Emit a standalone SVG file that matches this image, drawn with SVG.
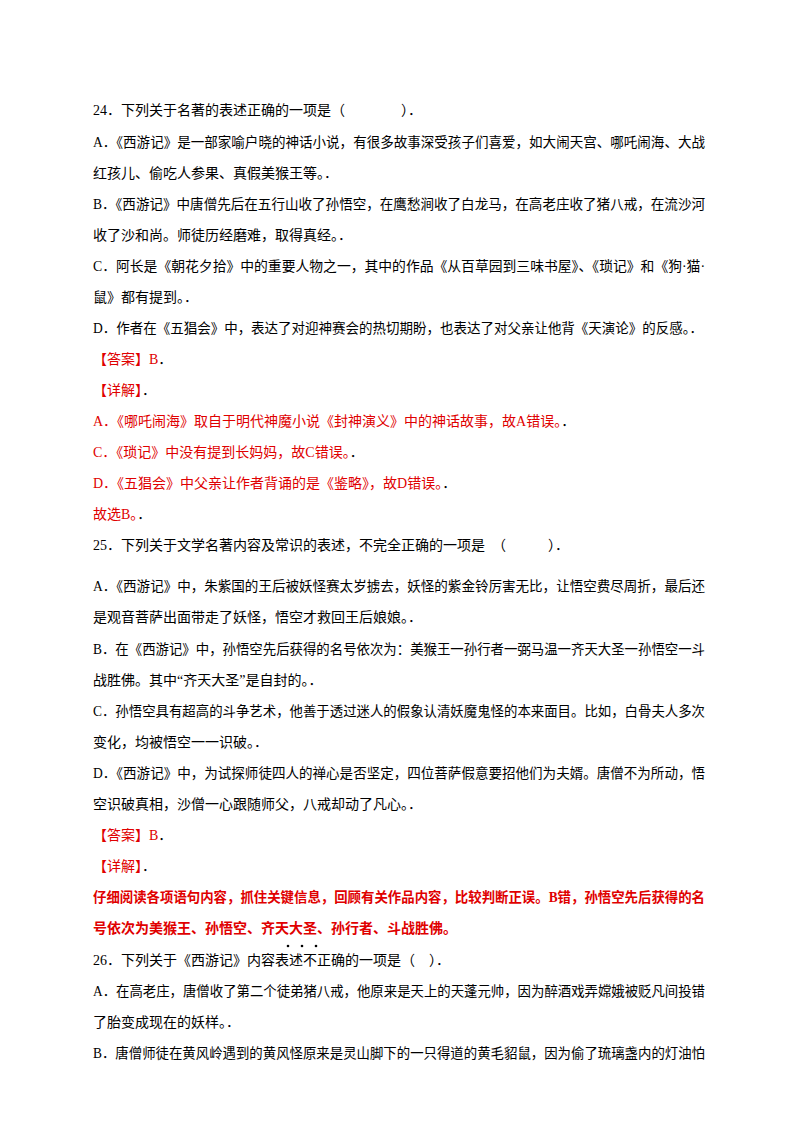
<svg xmlns="http://www.w3.org/2000/svg" width="800" height="1132" viewBox="0 0 800 1132">
<style>
text{font-family:"Liberation Serif","Noto Sans CJK SC",serif;font-size:14px;fill:#000}
.r{fill:#e00000}
.b{font-weight:bold}
</style>
<rect width="800" height="1132" fill="#fff"/>
<g id="q24">
<text x="93" y="115">24．下列关于名著的表述正确的一项是（　　　　）．</text>
<text x="93" y="147" textLength="612" lengthAdjust="spacingAndGlyphs">A．《西游记》是一部家喻户晓的神话小说，有很多故事深受孩子们喜爱，如大闹天宫、哪吒闹海、大战</text>
<text x="93" y="178">红孩儿、偷吃人参果、真假美猴王等。．</text>
<text x="93" y="209" textLength="612" lengthAdjust="spacingAndGlyphs">B．《西游记》中唐僧先后在五行山收了孙悟空，在鹰愁涧收了白龙马，在高老庄收了猪八戒，在流沙河</text>
<text x="93" y="240">收了沙和尚。师徒历经磨难，取得真经。．</text>
<text x="93" y="271" textLength="612" lengthAdjust="spacingAndGlyphs">C．阿长是《朝花夕拾》中的重要人物之一，其中的作品《从百草园到三味书屋》、《琐记》和《狗·猫·</text>
<text x="93" y="302">鼠》都有提到。．</text>
<text x="93" y="333" textLength="610" lengthAdjust="spacingAndGlyphs">D．作者在《五猖会》中，表达了对迎神赛会的热切期盼，也表达了对父亲让他背《天演论》的反感。．</text>
<text x="93" y="364" class="r">【答案】B<tspan fill="#000">．</tspan></text>
<text x="93" y="395" class="r">【详解】<tspan fill="#000">．</tspan></text>
<text x="93" y="426" class="r">A．《哪吒闹海》取自于明代神魔小说《封神演义》中的神话故事，故A错误。<tspan fill="#000">．</tspan></text>
<text x="93" y="457" class="r">C．《琐记》中没有提到长妈妈，故C错误。<tspan fill="#000">．</tspan></text>
<text x="93" y="488" class="r">D．《五猖会》中父亲让作者背诵的是《鉴略》，故D错误。<tspan fill="#000">．</tspan></text>
<text x="93" y="519" class="r">故选B。<tspan fill="#000">．</tspan></text>
</g>
<g id="q25">
<text x="93" y="550">25．下列关于文学名著内容及常识的表述，不完全正确的一项是　（　　　）．</text>
<text x="93" y="591" textLength="612" lengthAdjust="spacingAndGlyphs">A．《西游记》中，朱紫国的王后被妖怪赛太岁掳去，妖怪的紫金铃厉害无比，让悟空费尽周折，最后还</text>
<text x="93" y="622">是观音菩萨出面带走了妖怪，悟空才救回王后娘娘。．</text>
<text x="93" y="654" textLength="612" lengthAdjust="spacingAndGlyphs">B．在《西游记》中，孙悟空先后获得的名号依次为：美猴王一孙行者一弼马温一齐天大圣一孙悟空一斗</text>
<text x="93" y="685">战胜佛。其中“齐天大圣”是自封的。．</text>
<text x="93" y="716" textLength="612" lengthAdjust="spacingAndGlyphs">C．孙悟空具有超高的斗争艺术，他善于透过迷人的假象认清妖魔鬼怪的本来面目。比如，白骨夫人多次</text>
<text x="93" y="747">变化，均被悟空一一识破。．</text>
<text x="93" y="778" textLength="612" lengthAdjust="spacingAndGlyphs">D．《西游记》中，为试探师徒四人的禅心是否坚定，四位菩萨假意要招他们为夫婿。唐僧不为所动，悟</text>
<text x="93" y="809">空识破真相，沙僧一心跟随师父，八戒却动了凡心。．</text>
<text x="93" y="840" class="r">【答案】B<tspan fill="#000">．</tspan></text>
<text x="93" y="871" class="r">【详解】<tspan fill="#000">．</tspan></text>
<text x="93" y="902" class="r b" textLength="612" lengthAdjust="spacingAndGlyphs">仔细阅读各项语句内容，抓住关键信息，回顾有关作品内容，比较判断正误。B错，孙悟空先后获得的名</text>
<text x="93" y="933" class="r b">号依次为美猴王、孙悟空、齐天大圣、孙行者、斗战胜佛。</text>
</g>
<g id="q26">
<text x="93" y="965">26．下列关于《西游记》内容表述不正确的一项是（　）．</text>
<circle cx="288" cy="946" r="1.3"/><circle cx="302" cy="946" r="1.3"/><circle cx="316" cy="946" r="1.3"/>
<text x="93" y="996" textLength="612" lengthAdjust="spacingAndGlyphs">A．在高老庄，唐僧收了第二个徒弟猪八戒，他原来是天上的天蓬元帅，因为醉酒戏弄嫦娥被贬凡间投错</text>
<text x="93" y="1027">了胎变成现在的妖样。．</text>
<text x="93" y="1058" textLength="612" lengthAdjust="spacingAndGlyphs">B．唐僧师徒在黄风岭遇到的黄风怪原来是灵山脚下的一只得道的黄毛貂鼠，因为偷了琉璃盏内的灯油怕</text>
</g>
</svg>
